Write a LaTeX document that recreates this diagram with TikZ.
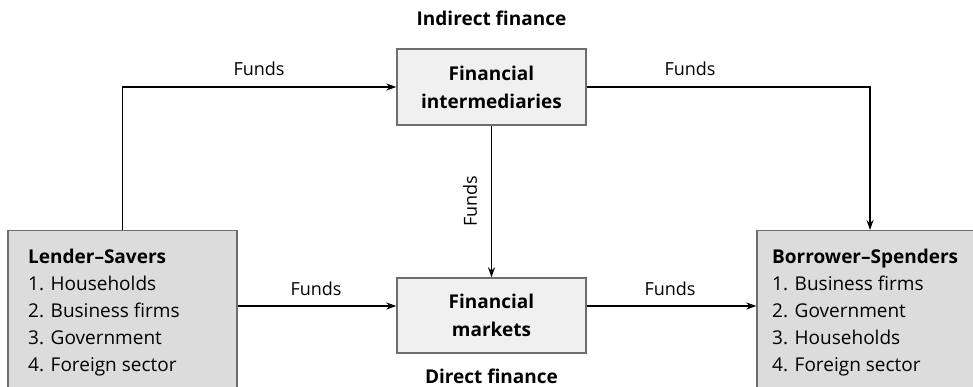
\documentclass[tikz,border=0pt]{standalone}
\usepackage{fontspec}
\setmainfont{Open Sans}
\usetikzlibrary{arrows.meta,calc}
\definecolor{boxgray}{HTML}{DCDCDC}
\definecolor{boxlight}{HTML}{F0F0F0}
\definecolor{edgegray}{HTML}{6E6E6E}
\begin{document}
\begin{tikzpicture}[x=1pt,y=-1pt,
  sidebox/.style={draw=edgegray,line width=1.4pt,fill=boxgray,minimum width=229pt,minimum height=200pt,anchor=north,inner sep=0pt},
  midbox/.style={draw=edgegray,line width=1.4pt,fill=boxlight,minimum width=189pt,minimum height=76pt,align=center,font=\fontsize{19}{28}\selectfont\bfseries,inner sep=0pt},
  listtext/.style={align=left,anchor=north west,inner sep=0pt,font=\fontsize{19}{27}\selectfont},
  lbl/.style={font=\fontsize{18}{22}\selectfont,inner sep=0pt},
  ttl/.style={font=\fontsize{19}{22}\selectfont\bfseries,inner sep=0pt},
  arr/.style={line width=1.2pt,-{Stealth[length=10pt,width=7pt]}}]
\useasboundingbox (0,0) rectangle (973,387);
\node[sidebox] (ls) at (122.5,230) {};
\node[sidebox,minimum width=226pt] (rs) at (870,230) {};
\node[midbox] (fi) at (491.5,87) {Financial\\intermediaries};
\node[midbox,minimum height=75pt] (fm) at (491.5,315.5) {Financial\\markets};
\node[listtext] (lst) at (28,248.5) {\textbf{Lender–Savers}\\1. Households\\2. Business firms\\3. Government\\4. Foreign sector};
\node[listtext] (rst) at (772,248.5) {\textbf{Borrower–Spenders}\\1. Business firms\\2. Government\\3. Households\\4. Foreign sector};
\node[ttl] (ind) at (491.5,18) {Indirect finance};
\node[ttl] (dir) at (491.5,376) {Direct finance};
\coordinate (mL) at ([yshift=9.5pt]fm.west);
\coordinate (mR) at ([yshift=9.5pt]fm.east);
\draw[arr] (ls.north) |- (fi.west);
\draw[arr] (fi.east) -| (rs.north);
\draw[arr] (fi.south) -- (fm.north);
\draw[arr] (ls.east |- mL) -- (mL);
\draw[arr] (mR) -- (rs.west |- mR);
\node[lbl] (f1) at (259,69) {Funds};
\node[lbl] (f2) at (690,69) {Funds};
\node[lbl,rotate=90] (f3) at (470,201) {Funds};
\node[lbl] (f4) at (316,289) {Funds};
\node[lbl] (f5) at (670,289) {Funds};
\end{tikzpicture}
\end{document}
